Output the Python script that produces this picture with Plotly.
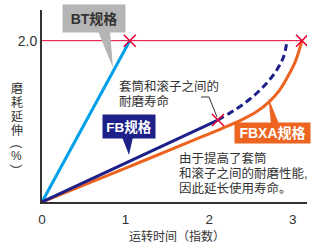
import plotly.graph_objects as go

# ---------------- data ----------------
bt_x = [0, 1.05]
bt_y = [0, 2.0]
fb_x = [0, 2.105]
fb_y = [0, 1.016]
fb_ext_x = [2.105, 2.15, 2.29, 2.45, 2.59, 2.71, 2.81, 2.89, 2.93]
fb_ext_y = [1.016, 1.045, 1.13, 1.245, 1.37, 1.50, 1.64, 1.80, 1.99]
fbxa_x = [0, 1.0, 1.8, 2.15, 2.40, 2.56, 2.72, 2.84, 2.94, 3.03, 3.11]
fbxa_y = [0, 0.42, 0.76, 0.91, 1.025, 1.115, 1.245, 1.385, 1.555, 1.74, 2.0]
end_x = [1.05, 2.105, 3.11]
end_y = [2.0, 1.016, 2.0]
limit_x = [0, 3.11]
limit_y = [2.0, 2.0]
x_ticks = [0, 1, 2, 3]
x_ticktext = ["0", "1", "2", "3"]
y_ticks = [2.0]
y_ticktext = ["2.0"]
x_title = "运转时间（指数）"
y_title_chars = ["磨", "耗", "延", "伸", "(", "%", ")"]
label_bt = "BT规格"
label_fb = "FB规格"
label_fbxa = "FBXA规格"
note_top = ["套筒和滚子之间的", "耐磨寿命"]
note_bottom = ["由于提高了套筒", "和滚子之间的耐磨性能,", "因此延长使用寿命。"]

# ---------------- style ----------------
W, H = 325, 250
L, R, T, B = 42, 18, 10, 48
PW, PH = W - L - R, H - T - B
BLUE = "#00a0e9"
NAVY = "#1d2088"
ORANGE = "#ec6420"
RED = "#e60033"
GRAY_BOX = "#b5b5b6"
TXT = "#333333"
FONT = "Liberation Sans, Noto Sans CJK SC, sans-serif"


def px(x):
    return (x - L) / PW


def py(y):
    return (T + PH - y) / PH


fig = go.Figure()
fig.add_trace(go.Scatter(x=limit_x, y=limit_y, mode="lines",
                         line=dict(color=RED, width=1), hoverinfo="skip"))
fig.add_trace(go.Scatter(x=bt_x, y=bt_y, mode="lines",
                         line=dict(color=BLUE, width=3)))
fig.add_trace(go.Scatter(x=fbxa_x, y=fbxa_y, mode="lines",
                         line=dict(color=ORANGE, width=3, shape="spline", smoothing=1)))
fig.add_trace(go.Scatter(x=fb_x, y=fb_y, mode="lines",
                         line=dict(color=NAVY, width=3)))
fig.add_trace(go.Scatter(x=fb_ext_x, y=fb_ext_y, mode="lines",
                         line=dict(color=NAVY, width=3, dash="7px,4px",
                                   shape="spline", smoothing=1)))
fig.add_trace(go.Scatter(x=end_x, y=end_y, mode="markers",
                         marker=dict(symbol="x-thin", size=12,
                                     line=dict(width=1.5, color=RED))))

shapes = []
# callout pointers
for pts, col in [([(98, 31), (110, 31), (113, 68)], GRAY_BOX),
                 ([(122, 137), (133, 137), (129, 155)], NAVY),
                 ([(271, 124), (279, 124), (268.5, 98)], ORANGE)]:
    path = "M " + " L ".join(f"{px(a)},{py(b)}" for a, b in pts) + " Z"
    shapes.append(dict(type="path", path=path, xref="paper", yref="paper",
                       fillcolor=col, line=dict(width=0), layer="above"))
# leader line for the top note
lead = [(201, 97), (209, 97), (217, 117)]
shapes.append(dict(type="path", xref="paper", yref="paper",
                   path="M " + " L ".join(f"{px(a)},{py(b)}" for a, b in lead),
                   line=dict(color=TXT, width=1), layer="above"))

ann = []
# boxed labels
ann.append(dict(x=px(94), y=py(18.5), xref="paper", yref="paper", showarrow=False,
                xanchor="center", yanchor="middle",
                text=f"<b>{label_bt}</b>", font=dict(family=FONT, size=14, color=TXT),
                bgcolor=GRAY_BOX, width=58, height=23, borderpad=2))
ann.append(dict(x=px(129), y=py(126.5), xref="paper", yref="paper", showarrow=False,
                xanchor="center", yanchor="middle",
                text=f"<b>{label_fb}</b>", font=dict(family=FONT, size=13.5, color="white"),
                bgcolor=NAVY, width=48, height=19, borderpad=2))
ann.append(dict(x=px(272.5), y=py(133), xref="paper", yref="paper", showarrow=False,
                xanchor="center", yanchor="middle",
                text=f"<b>{label_fbxa}</b>", font=dict(family=FONT, size=14, color="white"),
                bgcolor=ORANGE, width=71, height=16, borderpad=2))
# notes
for i, line in enumerate(note_top):
    ann.append(dict(x=px(117), y=py(86.5 + 15 * i), xref="paper", yref="paper",
                    showarrow=False, xanchor="left", yanchor="middle", text=line,
                    font=dict(family=FONT, size=12.5, color=TXT)))
for i, line in enumerate(note_bottom):
    ann.append(dict(x=px(177), y=py(158.5 + 15 * i), xref="paper", yref="paper",
                    showarrow=False, xanchor="left", yanchor="middle", text=line,
                    font=dict(family=FONT, size=12.5, color=TXT)))
# axis titles
ann.append(dict(x=px(177), y=py(236), xref="paper", yref="paper", showarrow=False,
                xanchor="center", yanchor="middle", text=x_title,
                font=dict(family=FONT, size=12, color=TXT)))
ycent = [89, 103, 117.5, 131, 146, 156, 166]
for ch, yc in zip(y_title_chars, ycent):
    ann.append(dict(x=px(16.5), y=py(yc), xref="paper", yref="paper", showarrow=False,
                    xanchor="center", yanchor="middle", text=ch,
                    textangle=90 if ch in "()" else 0,
                    font=dict(family=FONT, size=12, color=TXT)))

fig.update_layout(
    width=W, height=H, margin=dict(l=L, r=R, t=T, b=B),
    paper_bgcolor="white", plot_bgcolor="white", showlegend=False,
    shapes=shapes, annotations=ann,
    xaxis=dict(range=[0, 3.17], tickvals=x_ticks, ticktext=x_ticktext,
               showgrid=False, zeroline=False, showline=True, linecolor="#333333",
               linewidth=2, ticks="outside", ticklen=4, tickcolor="rgba(0,0,0,0)",
               tickfont=dict(family=FONT, size=13.5, color=TXT), fixedrange=True),
    yaxis=dict(range=[0, 2.38], tickvals=y_ticks, ticktext=y_ticktext,
               showgrid=False, zeroline=False, showline=True, linecolor="#333333",
               linewidth=2, ticks="", tickfont=dict(family=FONT, size=14, color=TXT),
               fixedrange=True),
)
fig.write_html("out.html")
